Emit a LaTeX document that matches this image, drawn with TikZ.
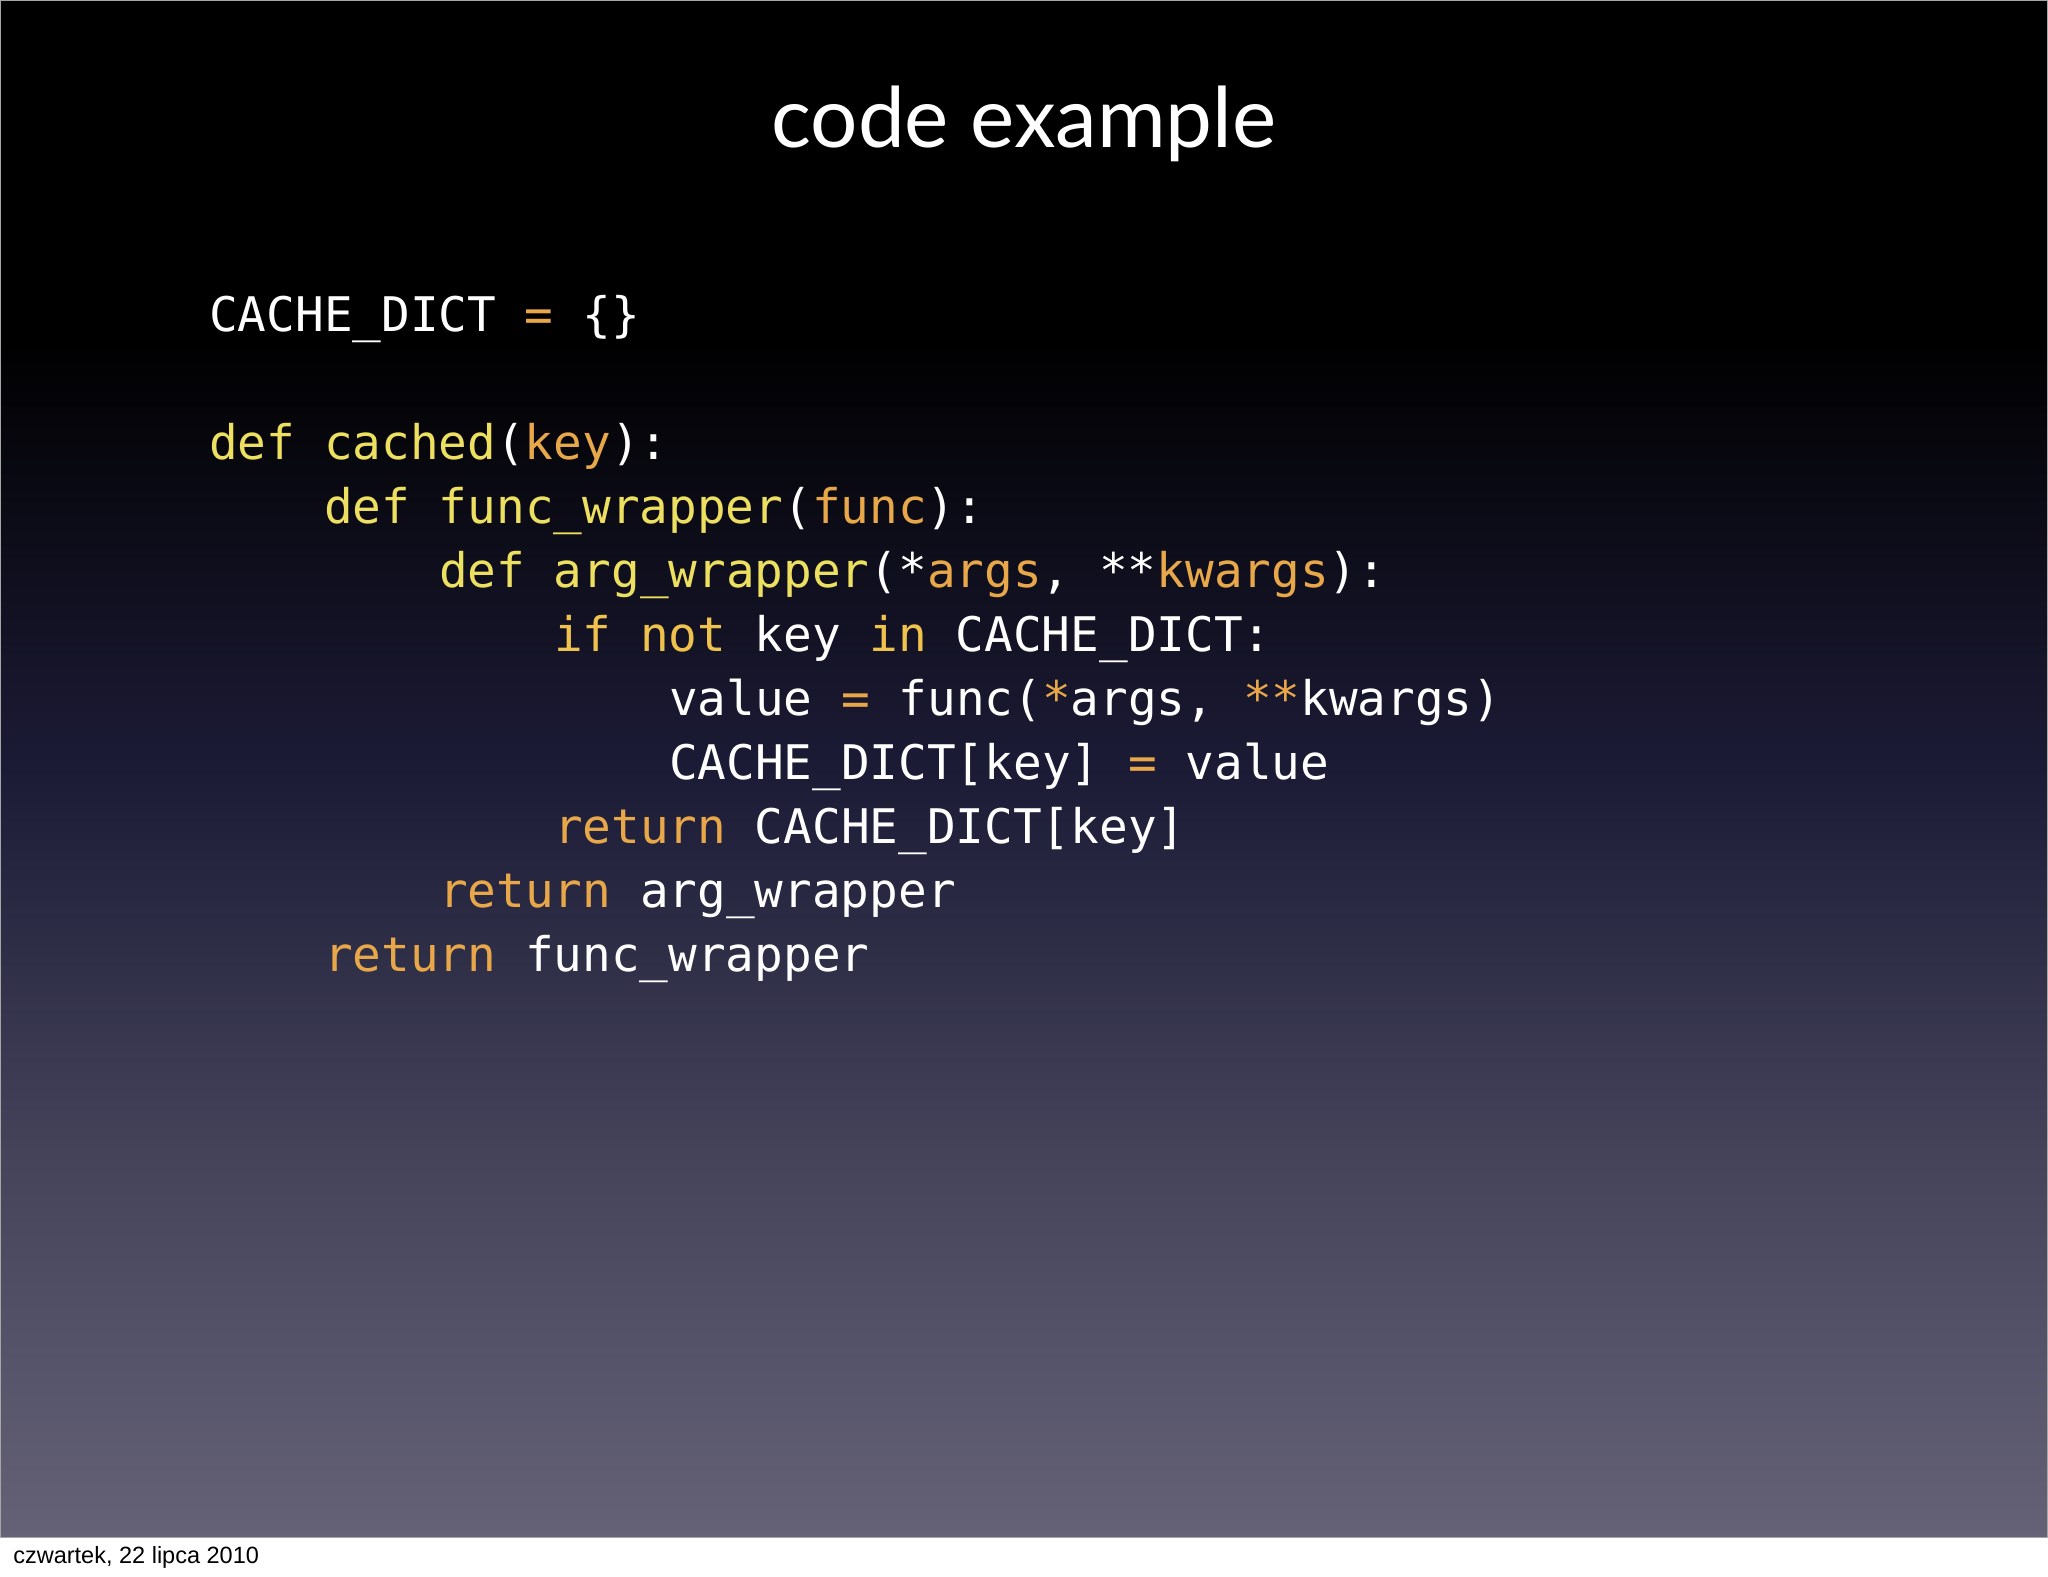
\documentclass[tikz,border=0pt]{standalone}
\usepackage{fontspec}
\setmainfont{Lato}
\newfontfamily\codefont{DejaVu Sans Mono}
\newfontfamily\footfont{Liberation Sans}
\definecolor{kwy}{HTML}{EDE060}
\definecolor{kwo}{HTML}{E8A84A}
\definecolor{kwi}{HTML}{EEC24C}
\definecolor{bgA}{HTML}{656277}
\definecolor{bgB}{HTML}{44435A}
\definecolor{bgC}{HTML}{1C1B36}
\newcommand{\ky}[1]{\textcolor{kwy}{#1}}
\newcommand{\ko}[1]{\textcolor{kwo}{#1}}
\newcommand{\ki}[1]{\textcolor{kwi}{#1}}
\pgfdeclareverticalshading{slidebg}{100bp}{color(0bp)=(bgA); color(25bp)=(bgA); color(37.5bp)=(bgB); color(50bp)=(bgC); color(64bp)=(black); color(75bp)=(black); color(100bp)=(black)}
\tikzset{codeline/.style={anchor=base west, inner sep=0pt, text=white, font=\codefont\fontsize{36.5}{40}\selectfont}}
\begin{document}
\begin{tikzpicture}[x=1pt,y=-1pt]
\useasboundingbox (0,0) rectangle (1568,1207);
\fill[white] (0,0) rectangle (1568,1207);
\shade[shading=slidebg] (0,0) rectangle (1568,1177);
\draw[gray!70, line width=1pt] (0.5,0.5) rectangle (1567.5,1177);
\node[text=white, font=\fontsize{64}{70}\selectfont] (title) at (784,95) {code example};
\node[codeline] (l1) at (160,254) {CACHE\_DICT \ko{=} \{\}};
\node[codeline] (l2) at (160,352) {\ky{def cached}(\ko{key}):};
\node[codeline] (l3) at (248,401) {\ky{def func\_wrapper}(\ko{func}):};
\node[codeline] (l4) at (336,450) {\ky{def arg\_wrapper}(*\ko{args}, **\ko{kwargs}):};
\node[codeline] (l5) at (424,499) {\ki{if} \ki{not} key \ki{in} CACHE\_DICT:};
\node[codeline] (l6) at (512,548) {value \ko{=} func(\ko{*}args, \ko{**}kwargs)};
\node[codeline] (l7) at (512,597) {CACHE\_DICT[key] \ko{=} value};
\node[codeline] (l8) at (424,646) {\ko{return} CACHE\_DICT[key]};
\node[codeline] (l9) at (336,695) {\ko{return} arg\_wrapper};
\node[codeline] (l10) at (248,744) {\ko{return} func\_wrapper};
\node[anchor=base west, inner sep=0pt, font=\footfont\fontsize{18}{20}\selectfont] (foot) at (10,1197) {czwartek, 22 lipca 2010};
\end{tikzpicture}
\end{document}
